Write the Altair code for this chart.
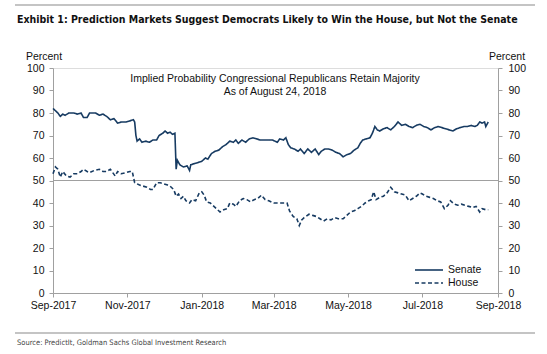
import altair as alt
import pandas as pd

senate_dates = ["2017-09-01","2017-09-03","2017-09-05","2017-09-07","2017-09-09","2017-09-11","2017-09-14","2017-09-18","2017-09-21","2017-09-24","2017-09-26","2017-09-29","2017-10-01","2017-10-06","2017-10-09","2017-10-12","2017-10-15","2017-10-18","2017-10-21","2017-10-24","2017-10-27","2017-10-31","2017-11-03","2017-11-06","2017-11-07","2017-11-08","2017-11-09","2017-11-11","2017-11-13","2017-11-16","2017-11-19","2017-11-22","2017-11-25","2017-11-27","2017-11-30","2017-12-02","2017-12-04","2017-12-06","2017-12-08","2017-12-10","2017-12-11","2017-12-12","2017-12-14","2017-12-17","2017-12-20","2017-12-22","2017-12-23","2017-12-26","2017-12-29","2018-01-01","2018-01-04","2018-01-06","2018-01-09","2018-01-12","2018-01-15","2018-01-18","2018-01-21","2018-01-24","2018-01-27","2018-01-29","2018-01-31","2018-02-03","2018-02-06","2018-02-09","2018-02-12","2018-02-15","2018-02-18","2018-02-23","2018-02-28","2018-03-04","2018-03-06","2018-03-09","2018-03-11","2018-03-13","2018-03-15","2018-03-18","2018-03-21","2018-03-23","2018-03-26","2018-03-29","2018-04-01","2018-04-04","2018-04-07","2018-04-09","2018-04-12","2018-04-15","2018-04-18","2018-04-21","2018-04-24","2018-04-27","2018-04-30","2018-05-03","2018-05-06","2018-05-09","2018-05-11","2018-05-13","2018-05-16","2018-05-19","2018-05-21","2018-05-23","2018-05-25","2018-05-27","2018-05-30","2018-06-02","2018-06-05","2018-06-08","2018-06-11","2018-06-14","2018-06-17","2018-06-20","2018-06-23","2018-06-26","2018-06-29","2018-07-02","2018-07-05","2018-07-08","2018-07-11","2018-07-14","2018-07-17","2018-07-20","2018-07-23","2018-07-26","2018-07-29","2018-08-01","2018-08-04","2018-08-07","2018-08-10","2018-08-13","2018-08-15","2018-08-17","2018-08-19","2018-08-21","2018-08-22","2018-08-24"]
senate_values = [82,81,80,78.5,79.5,79,80,80,79.5,80,78,78,80,80,79,79.5,78.5,77,77.5,75.5,76,76,76.5,77,76,70,67.5,68.5,67,67.5,67,68,68,70,71,72,71,71.5,70.5,71,55,59,57,56,56.5,54.5,57,57.5,58,58.5,60,59.5,62,63,63.5,65,66,67.5,67,68,66.5,68,67,68.5,69,68.5,68,68,68,67,68.5,68,69,66,64.5,64,63,64,62,64,62.5,64,61.5,63,64,64,63.5,62.5,62,60.5,61.5,62,63.5,64.5,66.5,68,68.5,69,71,74,72.5,72,73,73.5,72.5,74,76,74.5,75,74,73.5,74.5,75,74,73.5,72.5,73.5,74,73.5,73,72.5,72,73,73.5,74,74,74.5,74,74.5,76,75.5,76,74,76]

house_dates = ["2017-09-01","2017-09-03","2017-09-05","2017-09-07","2017-09-09","2017-09-12","2017-09-15","2017-09-18","2017-09-21","2017-09-24","2017-09-26","2017-09-29","2017-10-01","2017-10-05","2017-10-09","2017-10-12","2017-10-15","2017-10-18","2017-10-20","2017-10-22","2017-10-24","2017-10-27","2017-10-31","2017-11-03","2017-11-05","2017-11-07","2017-11-09","2017-11-11","2017-11-14","2017-11-17","2017-11-20","2017-11-22","2017-11-25","2017-11-28","2017-12-01","2017-12-04","2017-12-06","2017-12-09","2017-12-11","2017-12-13","2017-12-15","2017-12-17","2017-12-19","2017-12-22","2017-12-24","2017-12-27","2017-12-30","2018-01-01","2018-01-03","2018-01-05","2018-01-08","2018-01-11","2018-01-14","2018-01-16","2018-01-19","2018-01-22","2018-01-24","2018-01-27","2018-01-29","2018-02-01","2018-02-04","2018-02-07","2018-02-10","2018-02-13","2018-02-16","2018-02-19","2018-02-22","2018-02-25","2018-03-01","2018-03-04","2018-03-08","2018-03-12","2018-03-14","2018-03-17","2018-03-20","2018-03-22","2018-03-24","2018-03-26","2018-03-30","2018-04-02","2018-04-05","2018-04-08","2018-04-11","2018-04-14","2018-04-17","2018-04-20","2018-04-23","2018-04-27","2018-04-30","2018-05-03","2018-05-06","2018-05-09","2018-05-12","2018-05-15","2018-05-18","2018-05-20","2018-05-22","2018-05-24","2018-05-27","2018-05-30","2018-06-02","2018-06-05","2018-06-08","2018-06-11","2018-06-14","2018-06-17","2018-06-20","2018-06-23","2018-06-26","2018-06-29","2018-07-01","2018-07-04","2018-07-07","2018-07-10","2018-07-13","2018-07-16","2018-07-19","2018-07-22","2018-07-24","2018-07-27","2018-07-30","2018-08-02","2018-08-05","2018-08-08","2018-08-11","2018-08-14","2018-08-17","2018-08-19","2018-08-22","2018-08-24"]
house_values = [53,56,55,51.5,54,52,51.5,53,53,54,55,54,53.5,54.5,55,54,54,55,53.5,52,54,53,53.5,54,54,49,48.5,48,47.5,47,46,46,49,49,48.5,48,47.5,46,43,44,42,43,41,40,41.5,41,44.5,45,43.5,40.5,40,38.5,37,36,37,37.5,40,39.5,38.5,41,42,41.5,40.5,41.5,42,43.5,41.5,41,40,40,40,40,36.5,34,33,30,32.5,33.5,35,34.5,34,33,32,33,32.5,33.5,33,33,34.5,36,36.5,37.5,38.5,40,41,41.5,45,41.5,42.5,43,44.5,47,45,44.5,44,43.5,41,42,43,44.5,44,43,42.5,42,41,40.5,37.5,39,41,39.5,39,39.5,39,38.5,38,38.5,36,37.5,37,37]

x_tick_dates = ["2017-09-01","2017-11-01","2018-01-01","2018-03-01","2018-05-01","2018-07-01","2018-09-01"]
y_ticks = [0, 10, 20, 30, 40, 50, 60, 70, 80, 90, 100]

title_text = "Exhibit 1: Prediction Markets Suggest Democrats Likely to Win the House, but Not the Senate"
inner_title = ["Implied Probability Congressional Republicans Retain Majority", "As of August 24, 2018"]
source_text = "Source: PredictIt, Goldman Sachs Global Investment Research"

NAVY = "#173b62"
GRAY = "#a0a0a0"
FONT = "Liberation Sans"
NARROW = "DejaVu Sans Condensed"

def to_dt(s):
    y, m, d = s.split("-")
    return alt.DateTime(year=int(y), month=int(m), date=int(d))

df = pd.concat([
    pd.DataFrame({"date": [d + "T00:00:00" for d in senate_dates], "value": senate_values, "series": "Senate"}),
    pd.DataFrame({"date": [d + "T00:00:00" for d in house_dates], "value": house_values, "series": "House"}),
])

W, H = 445, 225

xscale = alt.Scale(domain=[to_dt("2017-09-01"), to_dt("2018-09-01")], nice=False)
yscale = alt.Scale(domain=[0, 100], nice=False)

axis_common = dict(domainColor=GRAY, tickColor=GRAY, tickSize=4, labelFont=FONT,
                   labelFontSize=10.5, labelColor="#111", grid=False, title=None,
                   labelFlush=False)

lines = alt.Chart(df).mark_line(strokeWidth=1.6, color=NAVY).encode(
    x=alt.X("date:T", scale=xscale,
            axis=alt.Axis(values=[to_dt(d) for d in x_tick_dates], format="%b-%Y",
                          labelPadding=3, labelOverlap=False, **axis_common)),
    y=alt.Y("value:Q", scale=yscale,
            axis=alt.Axis(values=y_ticks, orient="left", labelPadding=5, **axis_common)),
    strokeDash=alt.StrokeDash("series:N", scale=alt.Scale(domain=["Senate", "House"], range=[[1, 0], [4, 2.5]]), legend=None),
    detail="series:N",
)

ref = alt.Chart(pd.DataFrame({"v": [50]})).mark_rule(color=GRAY, strokeWidth=1).encode(
    y=alt.Y("v:Q", scale=yscale,
            axis=alt.Axis(values=y_ticks, orient="right", labelPadding=6, **axis_common)),
)

def txt(s, x, y, size=10.5, align="left", font=FONT, weight="normal", color="#111"):
    return alt.Chart(pd.DataFrame({"t": [s]})).mark_text(
        align=align, baseline="middle", fontSize=size, font=font, fontWeight=weight, color=color
    ).encode(text="t:N", x=alt.value(x), y=alt.value(y))

def hline(x1, x2, y, color=GRAY, dash=None, width=1):
    kw = dict(color=color, strokeWidth=width)
    if dash:
        kw["strokeDash"] = dash
    return alt.Chart(pd.DataFrame({"a": [0]})).mark_rule(**kw).encode(
        x=alt.value(x1), x2=alt.value(x2), y=alt.value(y))

layers = [
    ref,
    lines,
    txt(title_text, -36, -48, size=10.5, font=NARROW, weight="bold"),
    hline(-38, 482, -63, color="#b0b0b0", width=1.5),
    txt("Percent", -9, -11, align="center"),
    txt("Percent", 454, -11, align="center"),
    txt(inner_title[0], 222, 11, align="center"),
    txt(inner_title[1], 222, 23.5, align="center"),
    hline(362, 390, 202, color=NAVY, width=1.6),
    hline(362, 390, 215, color=NAVY, dash=[4, 2.5], width=1.6),
    txt("Senate", 395, 202),
    txt("House", 395, 215),
    hline(-38, 482, 265, color="#b0b0b0", width=1.5),
    txt(source_text, -36, 275, size=7.5, font=NARROW, color="#444"),
]

chart = alt.layer(*layers).resolve_scale(y="independent").properties(
    width=W, height=H,
    padding={"left": 53, "top": 68, "right": 49, "bottom": 61},
    autosize=alt.AutoSizeParams(type="none"),
).configure_view(stroke=GRAY, strokeWidth=1).configure(background="white")

chart.save("out.html", embed_options={"renderer": "svg", "actions": False})
